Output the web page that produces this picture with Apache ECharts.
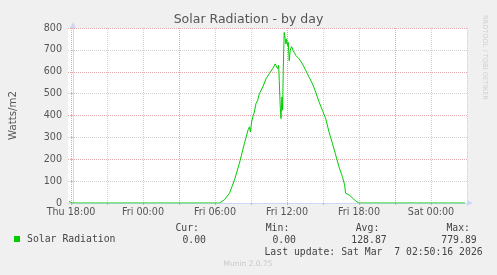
<!DOCTYPE html>
<html>
<head>
<meta charset="utf-8">
<script src="https://cdn.jsdelivr.net/npm/echarts@6/dist/echarts.min.js"></script>
<style>
html,body{margin:0;padding:0;background:#f0f0f0;}
#c{width:497px;height:275px;}
</style>
</head>
<body>
<div id="c"></div>
<script>
// Hours relative to Thu 18:00
const hours = [-0.333, -0.21, -0.083, 12.275, 12.69, 13.11, 13.53, 13.94, 14.36, 14.67, 14.775, 14.86, 14.96, 15.06, 15.19, 15.33, 15.475, 15.61, 15.75, 15.89, 16.17, 16.44, 16.72, 16.94, 17.06, 17.14, 17.225, 17.275, 17.36, 17.42, 17.5, 17.56, 17.61, 17.69, 17.775, 17.83, 17.89, 17.975, 18.03, 18.11, 18.19, 18.31, 18.44, 18.58, 18.67, 18.81, 18.94, 19.08, 19.22, 19.5, 19.775, 20.06, 20.33, 20.61, 20.89, 21.17, 21.44, 21.725, 22.0, 22.275, 22.56, 22.75, 22.83, 22.975, 23.19, 23.39, 23.67, 23.94, 32.83];
const solarRadiation = [8, 6, 0, 0, 15, 45, 106, 182, 273, 335, 348, 325, 370, 394, 416, 455, 470, 500, 515, 530, 568, 591, 614, 636, 644, 614, 629, 560, 439, 386, 485, 424, 606, 779.89, 750, 727, 750, 720, 735, 650, 697, 715, 697, 700, 674, 667, 659, 659, 636, 606, 575, 545, 507, 462, 424, 385, 325, 273, 220, 166, 121, 83, 45, 42, 35, 23, 10, 0, 0];
const xTickHours = [0, 6, 12, 18, 24, 30];
const xTickLabels = ['Thu 18:00', 'Fri 00:00', 'Fri 06:00', 'Fri 12:00', 'Fri 18:00', 'Sat 00:00'];
const yTicks = [0, 100, 200, 300, 400, 500, 600, 700, 800];
const seriesName = 'Solar Radiation';
const statHeads = ['Cur:', 'Min:', 'Avg:', 'Max:'];
const statValues = ['0.00', '0.00', '128.87', '779.89'];
const lastUpdate = 'Last update: Sat Mar  7 02:50:16 2026';
const footer = 'Munin 2.0.75';
const watermark = 'RRDTOOL / TOBI OETIKER';

const MAJ = '#e2aaaa', MIN = '#d2d2d2', AX = '#cfd6f8', FONT = '#555';
const mono = 'DejaVu Sans Mono', sans = 'DejaVu Sans';

const chart = echarts.init(document.getElementById('c'), null, {renderer: 'canvas'});

const headRight = [199, 289.3, 379.3, 470];
const valRight = [206, 296, 386.7, 476.7];
const graphics = [];
statHeads.forEach((t, i) => graphics.push({type: 'text', x: headRight[i], y: 228, style: {text: t, font: '9.8px "' + mono + '"', fill: '#444', align: 'right', verticalAlign: 'middle'}}));
statValues.forEach((t, i) => graphics.push({type: 'text', x: valRight[i], y: 240, style: {text: t, font: '9.8px "' + mono + '"', fill: '#444', align: 'right', verticalAlign: 'middle'}}));
graphics.push({type: 'text', x: 482.7, y: 252, style: {text: lastUpdate, font: '9.8px "' + mono + '"', fill: '#444', align: 'right', verticalAlign: 'middle'}});
graphics.push({type: 'text', x: 248, y: 264.5, style: {text: footer, font: '7.5px "' + sans + '"', fill: '#c8c8c8', align: 'center', verticalAlign: 'middle'}});
graphics.push({type: 'text', x: 485, y: 15, rotation: -Math.PI / 2, style: {text: watermark, font: '6.6px "' + sans + '"', fill: '#cfcfcf', align: 'left', verticalAlign: 'middle'}});

const option = {
  backgroundColor: '#f0f0f0',
  animation: false,
  title: {
    text: 'Solar Radiation - by day', left: 'center', top: 13, padding: 0,
    textStyle: {fontFamily: sans, fontSize: 12.5, fontWeight: 'normal', color: FONT}
  },
  legend: {
    data: [seriesName], left: 14, top: 234, padding: 0,
    icon: 'rect', itemWidth: 6, itemHeight: 6,
    textStyle: {fontFamily: mono, fontSize: 9.8, color: '#444', padding: [0, 0, 0, 2]}
  },
  grid: [
    {left: 71, right: 30, top: 28, bottom: 72, show: false},
    {left: 66, right: 30, top: 28, bottom: 72, show: true, backgroundColor: '#fff', borderWidth: 0}
  ],
  xAxis: [
    {
      type: 'value', gridIndex: 0, min: 0, max: 33, interval: 1,
      axisLine: {show: false},
      axisTick: {show: true, length: 2, inside: false, customValues: [0, 3, 6, 9, 12, 15, 18, 21, 24, 27, 30, 33], lineStyle: {color: MAJ}},
      axisLabel: {
        show: true, margin: 4, fontFamily: sans, fontSize: 9.6, color: FONT,
        customValues: xTickHours,
        formatter: v => { const i = xTickHours.indexOf(v); return i >= 0 ? xTickLabels[i] : ''; }
      },
      splitLine: {show: true, lineStyle: {color: [MAJ, MIN, MIN], type: [1, 1], width: 1}}
    },
    {
      type: 'value', gridIndex: 1, min: -5 / 12, max: 33,
      axisLine: {show: true, lineStyle: {color: AX, width: 1}, symbol: ['none', 'triangle'], symbolSize: [6, 6], symbolOffset: [0, 3]},
      axisTick: {show: false}, axisLabel: {show: false}, splitLine: {show: false}
    }
  ],
  yAxis: [
    {type: 'value', gridIndex: 0, min: 0, max: 800, show: false, splitLine: {show: false}},
    {
      type: 'value', gridIndex: 1, min: 0, max: 800, interval: 50,
      name: 'Watts/m2', nameLocation: 'middle', nameGap: 50, nameRotate: 90,
      nameTextStyle: {fontFamily: sans, fontSize: 10.2, color: FONT},
      axisLine: {show: true, lineStyle: {color: AX, width: 1}, symbol: ['none', 'triangle'], symbolSize: [6, 6], symbolOffset: [0, 3]},
      axisTick: {show: true, length: 2, customValues: yTicks, lineStyle: {color: MAJ}},
      axisLabel: {
        show: true, margin: 6, fontFamily: sans, fontSize: 9.6, color: FONT,
        formatter: v => (yTicks.indexOf(v) >= 0 ? String(v) : '')
      },
      splitLine: {show: true, lineStyle: {color: [MAJ, MIN], type: [1, 1], width: 1}}
    }
  ],
  series: [{
    name: seriesName, type: 'line', xAxisIndex: 1, yAxisIndex: 1,
    data: hours.map((h, i) => [h, solarRadiation[i]]),
    showSymbol: false, symbol: 'none',
    lineStyle: {color: '#00cc00', width: 1},
    itemStyle: {color: '#00cc00'}
  }],
  graphic: graphics
};
chart.setOption(option);
</script>
</body>
</html>
